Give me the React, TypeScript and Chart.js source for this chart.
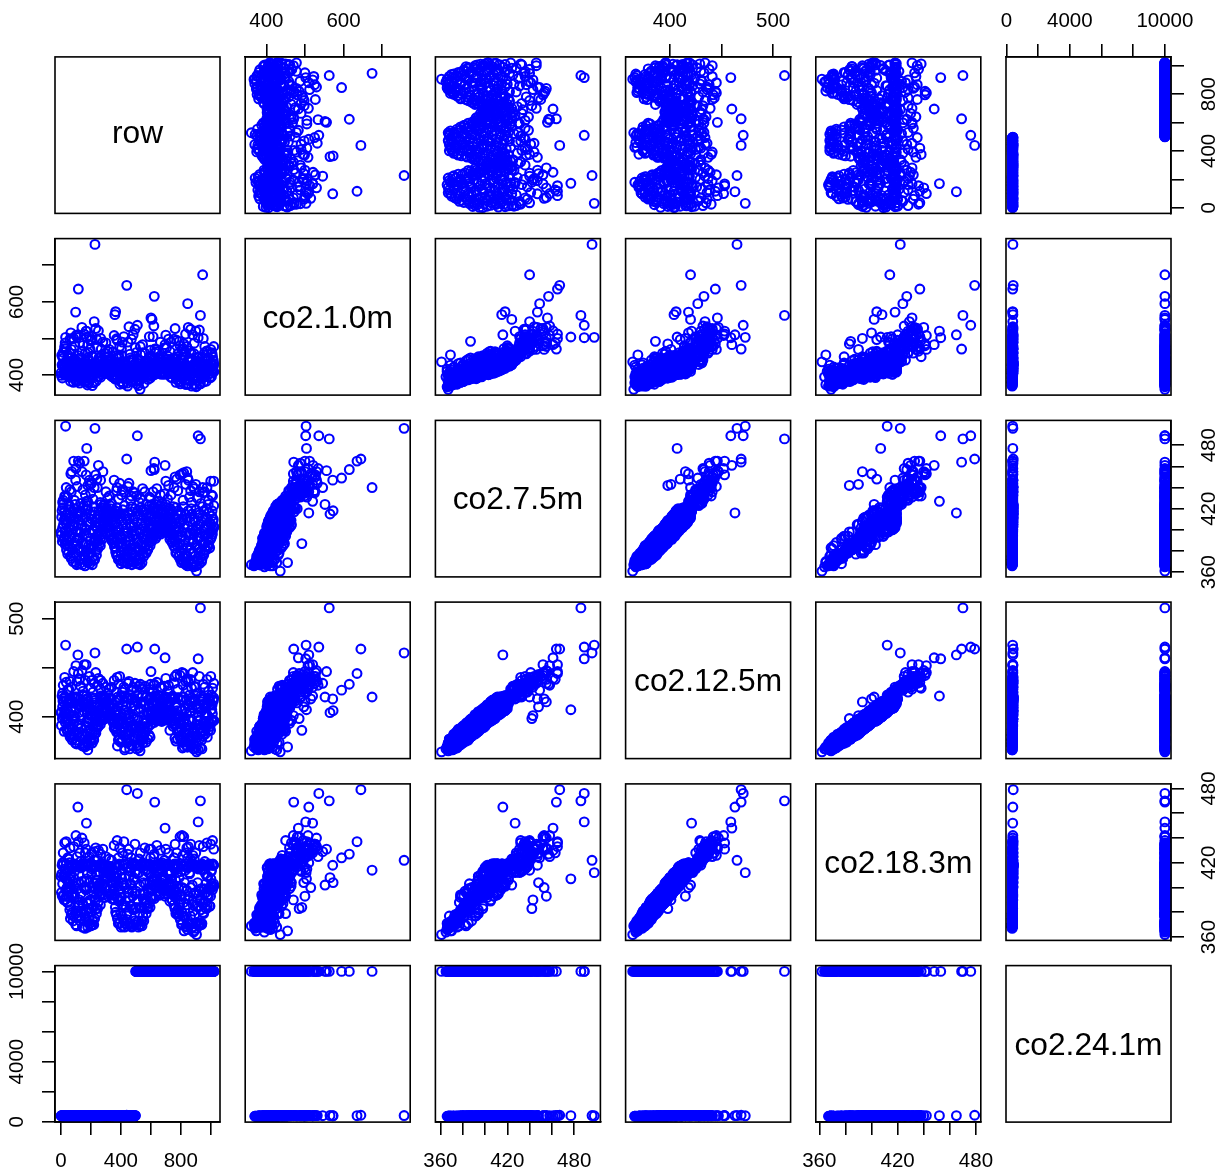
import React, { useEffect, useRef } from "react";
import { Chart, registerables } from "chart.js";
Chart.register(...registerables);

const rowMain = [
  1,5,9,13,17,21,25,29,33,37, 41,45,49,53,57,61,65,69,73,77, 81,85,89,93,97,101,105,109,113,117,
  121,125,129,133,137,141,145,149,153,157, 161,165,169,173,177,181,185,189,193,197, 201,205,209,213,217,221,225,229,233,237,
  241,245,249,253,257,261,265,269,273,277, 281,285,289,293,297,301,305,309,313,317, 321,325,329,333,337,341,345,349,353,357,
  361,365,369,373,377,381,385,389,393,397, 401,405,409,413,417,421,425,429,433,437, 441,445,449,453,457,461,465,469,473,477,
  481,485,489,493,497,501,505,509,513,517, 521,525,529,533,537,541,545,549,553,557, 561,565,569,573,577,581,585,589,593,597,
  601,605,609,613,617,621,625,629,633,637, 641,645,649,653,657,661,665,669,673,677, 681,685,689,693,697,701,705,709,713,717,
  721,725,729,733,737,741,745,749,753,757, 761,765,769,773,777,781,785,789,793,797, 801,805,809,813,817,821,825,829,833,837,
  841,845,849,853,857,861,865,869,873,877, 881,885,889,893,897,901,905,909,913,917, 921,925,929,933,937,941,945,949,953,957,
  961,965,969,973,977,981,985,989,993,997, 1001,1005,1009,1013,1017,1021,
];
const c7Main = [
  398,412,389,421,405,393,417,386,409,381, 415,377,402,391,422,384,408,373,396,418, 370,411,388,420,378,399,367,415,392,405,
  383,368,418,397,372,409,387,421,375,402, 366,412,380,394,371,419,385,405,368,390, 378,414,367,399,385,422,372,407,391,376,
  412,382,396,418,387,404,392,421,396,408, 401,415,407,421,403,411,404,418,408,402, 414,399,420,396,409,392,417,388,405,384,
  412,379,398,421,375,403,387,415,371,394, 368,409,384,419,373,397,369,413,389,402, 380,368,416,393,372,405,386,422,367,399,
  378,410,369,396,420,383,371,407,391,368, 414,376,400,421,385,369,409,392,375,417, 384,406,378,419,395,382,412,388,402,392,
  415,389,405,421,393,410,398,418,392,404, 397,413,403,420,398,409,396,416,401,407, 419,400,410,398,415,404,421,397,408,401,
  412,398,420,393,406,389,417,395,385,410, 383,403,421,378,394,414,375,408,386,372, 416,369,398,381,422,374,405,390,367,411,
  383,366,418,395,371,408,378,420,368,400, 388,365,410,375,399,419,367,383,404,371, 414,368,393,380,408,372,422,386,376,402,
  381,412,395,420,385,405,390,416,383,398, 405,393,418,400,410,403,
];
const c12Main = [
  404,405,398,416,415,385,420,394,400,387, 406,384,396,402,418,379,416,382,388,420, 378,401,398,414,373,408,372,412,383,412,
  393,372,410,388,381,415,380,422,371,412, 369,417,374,405,377,409,394,397,376,383, 387,403,373,406,377,419,382,412,383,387,
  404,389,390,409,397,412,397,418,401,398, 399,405,414,415,406,419,401,406,400,411, 419,401,411,403,398,401,412,394,397,389,
  402,387,407,417,370,395,397,418,377,385, 374,400,393,412,381,407,366,402,381,410, 373,376,419,402,377,395,396,417,370,390,
  388,400,376,388,416,391,367,415,382,371, 405,385,408,415,377,376,415,383,379,412, 394,396,374,421,404,389,404,381,411,398,
  404,397,412,414,399,401,406,421,399,396, 403,404,398,421,406,416,399,408,395,416, 411,408,400,402,420,397,418,406,416,396,
  403,406,415,402,396,396,421,390,392,418, 378,412,413,388,385,419,384,400,394,378, 406,376,407,374,420,384,396,398,371,417,
  392,369,411,386,379,415,372,416,377,409, 380,367,418,385,389,412,373,392,396,366, 408,377,384,388,415,367,417,394,385,393,
  390,404,403,413,379,414,386,418,390,393, 413,397,412,395,416,396,
];
const c18Main = [
  409,411,393,418,409,390,415,390,407,393, 400,388,403,397,420,385,409,378,395,417, 373,408,392,419,379,403,369,418,377,404,
  386,377,416,395,375,419,387,419,368,405, 367,419,381,399,372,417,387,404,371,389, 380,411,370,400,384,417,375,417,390,379,
  410,383,397,401,393,417,394,419,395,403, 394,412,417,408,400,418,407,412,393,416, 417,395,417,410,404,394,404,399,390,395,
  409,380,412,411,375,401,389,419,371,392, 368,408,386,418,374,402,368,409,389,403, 379,369,416,396,371,403,403,419,368,397,
  382,408,370,395,419,384,370,411,390,368, 412,379,401,418,384,369,409,391,373,418, 387,403,379,418,399,384,412,387,404,392,
  411,391,417,406,405,408,401,418,393,401, 397,411,404,418,400,419,394,414,400,409, 418,401,406,395,418,402,419,398,411,401,
  397,413,418,395,402,390,417,395,386,419, 383,406,419,394,379,416,377,408,387,374, 413,370,400,377,417,377,404,391,368,419,
  386,366,416,393,371,418,377,419,371,402, 386,364,417,378,396,418,367,385,404,370, 416,371,391,382,417,371,418,387,379,399,
  384,411,396,418,385,409,393,419,385,399, 407,403,418,401,418,401,
];
const c1Main = [
  406,454,392,446,403,428,472,400,437,427, 427,407,447,396,460,402,405,395,448,418, 405,414,412,480,386,439,382,435,393,453,
  427,378,446,395,397,464,393,435,411,422, 416,430,385,424,373,461,443,405,390,402, 394,452,371,451,412,424,420,416,424,431,
  418,406,439,446,447,416,394,471,416,443, 431,420,427,459,404,459,419,430,450,410, 436,402,428,432,423,442,463,394,433,402,
  412,391,453,447,409,413,431,447,375,414, 392,454,392,437,376,427,427,411,429,416, 428,370,426,419,408,457,393,442,382,441,
  384,440,415,398,475,403,383,445,441,371, 430,416,405,455,395,397,461,416,377,425, 416,410,433,437,439,388,438,402,450,392,
  451,398,430,426,443,425,401,460,414,464, 423,415,443,436,404,443,444,426,421,407, 449,446,418,402,437,418,475,415,444,403,
  424,436,464,394,434,409,423,445,401,444, 425,409,445,388,450,416,405,426,432,376, 444,381,402,419,472,394,465,398,399,427,
  387,410,440,447,385,414,412,460,370,426, 406,395,458,375,435,429,370,439,418,395, 448,376,435,396,410,422,450,408,381,460,
  407,418,409,466,423,425,444,417,393,430, 429,396,458,412,440,409,
];
const c24Main = [
  392,401,385,410,398,388,405,380,396,376, 408,372,394,386,412,378,402,370,391,405, 368,396,376,408,372,394,365,403,388,392,
  373,366,404,394,370,398,384,410,367,391, 364,401,378,384,368,406,375,401,366,388, 375,402,365,389,382,409,370,396,387,373,
  402,380,393,405,384,394,389,410,392,398, 393,405,397,411,393,401,395,407,398,392, 404,396,408,386,399,390,406,386,395,382,
  400,377,388,409,372,400,377,404,369,384, 366,397,381,406,371,395,367,402,379,399, 370,365,404,391,369,394,383,410,365,389,
  375,399,367,386,408,
  10000,10000,10000,10000,10000, 10000,10000,10000,10000,10000,10000,10000,10000,10000,10000, 10000,10000,10000,10000,10000,10000,10000,10000,10000,10000,
  10000,10000,10000,10000,10000,10000,10000,10000,10000,10000, 10000,10000,10000,10000,10000,10000,10000,10000,10000,10000, 10000,10000,10000,10000,10000,10000,10000,10000,10000,10000,
  10000,10000,10000,10000,10000,10000,10000,10000,10000,10000, 10000,10000,10000,10000,10000,10000,10000,10000,10000,10000, 10000,10000,10000,10000,10000,10000,10000,10000,10000,10000,
  10000,10000,10000,10000,10000,10000,10000,10000,10000,10000, 10000,10000,10000,10000,10000,10000,10000,10000,10000,10000, 10000,10000,10000,10000,10000,10000,10000,10000,10000,10000,
  10000,10000,10000,10000,10000,10000,10000,10000,10000,10000, 10000,10000,10000,10000,10000,10000,
];

// ---- further observations inside the dense clouds ----
const rowFill = [
  3,7,11,15,19,23,27,31,35,39, 43,47,51,55,59,63,67,71,75,79, 83,87,91,95,99,103,107,111,115,119,
  123,127,131,135,139,143,147,151,155,159, 163,167,171,175,179,183,187,191,195,199, 203,207,211,215,219,223,227,231,235,239,
  243,247,251,255,259,263,267,271,275,279, 283,287,291,295,299,303,307,311,315,319, 323,327,331,335,339,343,347,351,355,359,
  363,367,371,375,379,383,387,391,395,399, 403,407,411,415,419,423,427,431,435,439, 443,447,451,455,459,463,467,471,475,479,
  483,487,491,495,499,503,507,511,515,519, 523,527,531,535,539,543,547,551,555,559, 563,567,571,575,579,583,587,591,595,599,
  603,607,611,615,619,623,627,631,635,639, 643,647,651,655,659,663,667,671,675,679, 683,687,691,695,699,703,707,711,715,719,
  723,727,731,735,739,743,747,751,755,759, 763,767,771,775,779,783,787,791,795,799, 803,807,811,815,819,823,827,831,835,839,
  843,847,851,855,859,863,867,871,875,879, 883,887,891,895,899,903,907,911,915,919, 923,927,931,935,939,943,947,951,955,959,
  963,967,971,975,979,983,987,991,995,999, 1003,1007,1011,1015,1019,1020,
];
const c7Fill = [
  395,418,402,424,391,410,399,414,406,390, 386,408,379,419,394,375,412,400,382,405, 376,404,393,424,369,385,413,398,381,409,
  392,372,416,380,404,367,388,423,396,376, 374,400,386,423,369,408,378,397,415,383, 384,410,374,400,371,417,389,404,380,394,
  402,389,414,394,407,385,424,398,391,411, 406,423,412,402,416,409,420,405,413,403, 403,423,394,411,390,407,399,415,393,388,
  383,407,376,392,417,372,400,388,411,380, 378,391,370,405,381,415,375,399,386,410, 374,398,389,411,370,383,403,377,417,394,
  386,403,374,413,380,399,368,418,388,373, 381,397,372,406,388,419,378,403,394,383, 391,414,386,398,381,408,396,423,385,401,
  397,412,391,420,402,395,408,399,424,394, 404,418,399,410,402,423,405,398,412,400, 403,416,399,408,424,402,412,398,406,418,
  402,391,414,397,408,388,404,422,392,400, 390,378,411,398,384,418,402,376,393,407, 379,394,371,410,386,402,376,415,368,397,
  375,403,369,389,412,382,397,367,415,391, 379,396,370,408,385,366,401,373,416,392, 382,405,374,397,370,411,388,378,418,395,
  388,401,381,410,393,424,385,407,398,391, 399,413,396,408,402,423,
];
const c12Fill = [
  391,421,410,418,400,403,405,405,416,387, 394,398,388,414,387,381,416,409,376,397, 382,395,401,420,373,376,420,392,391,404,
  384,379,411,389,411,370,380,421,405,370, 381,391,395,418,366,416,371,407,409,375, 377,418,382,390,376,414,398,398,390,400,
  395,395,406,403,397,392,421,406,396,420, 397,417,419,398,406,414,408,415,406,411, 412,419,402,402,397,397,409,409,388,394,
  390,398,384,385,420,376,392,397,417,374, 386,384,375,396,390,420,368,406,378,419, 381,390,398,402,367,391,410,371,419,387,
  378,411,380,406,389,390,370,421,396,368, 390,388,376,414,380,421,373,396,402,390, 384,420,394,389,377,417,403,418,379,392,
  405,402,398,414,411,394,415,396,420,403, 413,409,406,418,396,418,398,407,402,405, 396,419,406,399,420,412,402,404,414,410,
  410,386,405,404,401,396,396,419,401,392, 398,375,403,406,377,419,393,385,400,417, 388,386,368,417,395,393,383,408,374,404,
  369,411,376,397,404,375,406,370,419,383, 387,388,367,417,378,369,410,379,409,400, 391,396,368,405,376,418,380,386,413,402,
  382,409,390,402,400,419,393,416,390,386, 407,407,403,417,396,419,
];
const c18Fill = [
  396,418,403,420,394,410,411,398,419,393, 388,405,393,407,382,375,418,416,380,405, 377,401,394,418,370,381,417,399,385,410,
  390,373,416,381,405,368,386,418,400,374, 376,398,388,419,368,419,376,400,417,369, 383,415,374,397,370,418,392,406,383,406,
  401,388,413,397,403,386,418,399,401,419, 403,418,417,392,413,408,414,408,411,415, 417,417,409,394,391,404,402,414,391,400,
  384,405,378,392,418,371,398,390,418,379, 392,377,369,404,385,419,371,400,384,416, 374,396,392,409,371,385,416,369,418,393,
  383,406,373,412,383,397,372,418,389,373, 384,395,370,418,373,419,377,404,395,396, 390,418,388,383,383,418,396,419,384,399,
  398,409,392,418,405,391,418,402,418,409, 418,402,413,412,394,419,404,400,408,398, 402,418,399,393,418,418,395,411,418,404,
  403,389,411,397,407,390,403,418,394,398, 392,379,396,412,382,417,399,379,393,419, 394,380,371,418,388,399,376,414,369,398,
  371,417,370,390,411,370,400,367,418,389, 381,395,365,418,371,371,417,372,415,394, 397,389,371,399,370,419,387,380,418,395,
  388,403,383,409,394,418,399,418,385,393, 413,400,398,419,403,418,
];
const c1Fill = [
  399,428,424,430,419,408,413,432,408,399, 402,414,409,431,394,383,436,403,402,419, 380,422,419,432,404,387,419,410,409,407,
  398,394,430,412,403,385,390,433,420,381, 402,408,402,427,379,430,380,427,414,389, 398,414,408,420,379,429,415,404,383,412,
  412,395,436,397,423,413,428,422,403,410, 408,435,430,426,422,409,440,419,417,411, 419,427,418,413,396,433,409,435,392,418,
  389,425,400,390,427,404,404,402,433,382, 402,395,378,419,417,417,391,405,414,428, 378,420,399,417,404,399,402,405,425,396,
  398,405,400,431,384,423,376,424,418,387, 383,417,402,416,394,423,402,401,408,411, 407,416,394,426,403,422,400,435,417,407,
  401,430,415,426,416,425,408,421,432,404, 416,424,425,412,422,433,421,402,434,408, 425,420,407,426,430,430,412,410,420,428,
  408,419,416,413,428,392,428,430,404,430, 400,380,435,420,414,424,418,382,395,419, 397,398,403,418,410,404,388,429,374,423,
  377,425,375,419,422,398,401,403,423,405, 387,420,374,422,413,368,419,385,422,394, 404,411,376,413,400,423,392,404,428,415,
  396,421,383,424,421,430,403,411,422,393, 405,429,416,410,426,431,
];
const c24Fill = [
  396,412,388,415,392,402,398,386,408,374, 384,398,377,409,390,372,406,396,381,401, 374,400,390,410,367,384,404,393,379,403,
  388,371,408,379,399,366,386,412,392,375, 372,395,385,410,367,403,377,394,407,381, 382,404,373,396,370,409,387,400,378,391,
  398,387,406,392,401,384,412,395,389,404, 400,411,405,397,408,403,410,399,406,398, 399,412,392,405,388,402,396,408,390,386,
  381,402,375,390,409,371,397,386,405,378, 376,389,369,401,380,408,374,395,384,404, 373,394,387,405,369,382,399,376,409,391,
  384,399,373,406,
  10000,10000,10000,10000,10000,10000, 10000,10000,10000,10000,10000,10000,10000,10000,10000,10000, 10000,10000,10000,10000,10000,10000,10000,10000,10000,10000,
  10000,10000,10000,10000,10000,10000,10000,10000,10000,10000, 10000,10000,10000,10000,10000,10000,10000,10000,10000,10000, 10000,10000,10000,10000,10000,10000,10000,10000,10000,10000,
  10000,10000,10000,10000,10000,10000,10000,10000,10000,10000, 10000,10000,10000,10000,10000,10000,10000,10000,10000,10000, 10000,10000,10000,10000,10000,10000,10000,10000,10000,10000,
  10000,10000,10000,10000,10000,10000,10000,10000,10000,10000, 10000,10000,10000,10000,10000,10000,10000,10000,10000,10000, 10000,10000,10000,10000,10000,10000,10000,10000,10000,10000,
  10000,10000,10000,10000,10000,10000,10000,10000,10000,10000, 10000,10000,10000,10000,10000,10000,
];

// ---- observations lying away from the dense clouds ----
const rowFar = [
  31,227,510,916,931, 172,439,116,623,626, 846,946,98,365,113, 695,601,620,905,528,
  25,35,15,45,60, 85,100,125,140,155, 168,190,205,222,232, 250,265,280,300,322, 355,375,392,410,420, 454,470,494,
  530,560,590,640,664, 700,718,762,773,795, 808,820,840,850,866, 880,900,924,950,975, 1000,1020,1012,
  170,180,195,72,66, 240,790,822,360,608,
  11,28,52,69,90,108,131,147,163,178,199,214,243,262,290,312,338,371,384,404,425,447,463,482,
  505,522,545,572,598,615,650,675,690,712,735,755,780,815,832,858,872,890,910,935,960,985,1005,
];
const c1Far = [
  503,757,536,502,563, 504,645,635,615,471, 595,674,572,573,510, 483,556,534,436,361,
  478,472,462,455,498, 500,508,488,530,512, 520,505,497,546,527, 521,500,490,488,470, 508,495,478,490,505, 532,498,525,
  478,460,505,470,490, 509,498,527,495,480, 470,485,478,530,525, 510,520,523,500,465, 470,478,450,
  520,485,470,500,515, 497,492,455,565,552,
  452,488,437,470,445,503,433,481,460,440,495,450,476,438,431,465,442,499,455,472,429,490,447,510,
  462,438,483,432,468,505,445,436,474,452,490,498,458,441,512,466,437,487,449,434,478,446,461,
];
const c7Far = [
  498,496,489,489,486, 477,467,465,457,464, 449,440,447,418,416, 461,456,458,361,367,
  432,440,428,431,438, 465,458,463,455,465, 452,447,444,440,452, 461,447,455,436,432, 447,440,444,438,436, 444,432,435,
  430,436,431,439,433, 446,442,450,448,452, 453,454,455,447,437, 441,443,436,435,440, 446,446,432,
  427,442,443,455,453, 448,387,369,415,424,
  426,431,424,436,428,441,425,438,433,427,435,429,440,426,424,430,425,437,429,433,423,441,428,436,
  432,426,439,424,430,436,427,425,434,429,433,440,437,428,443,431,426,439,430,425,436,428,433,
];
const c12Far = [
  473,465,471,459,511, 407,469,444,433,469, 427,420,418,406,463, 460,446,432,364,365,
  440,435,432,427,436, 446,452,438,447,453, 453,441,437,434,445, 439,437,434,430,428, 437,440,441,425,430, 436,428,434,
  433,431,428,435,430, 439,432,441,443,442, 445,444,438,436,438, 445,430,441,433,438, 441,434,429,
  421,398,401,415,418, 410,386,369,404,420,
  424,420,428,430,419,436,431,426,437,418,429,425,432,428,420,424,430,425,433,421,428,434,422,430,
  427,431,428,420,433,425,422,429,431,426,420,434,428,432,436,422,429,431,424,421,430,426,422,
];
const c18Far = [
  412,422,476,453,470, 407,479,437,427,469, 424,414,418,404,465, 448,431,425,362,369,
  436,437,428,424,432, 433,442,428,440,436, 431,425,428,429,432, 430,427,431,425,423, 434,438,432,428,437, 431,424,435,
  428,432,431,434,430, 431,428,435,428,441, 442,441,432,433,435, 426,428,434,433,436, 435,431,438,
  452,383,390,393,400, 404,384,365,408,402,
  420,414,423,418,413,425,421,417,428,412,420,416,422,419,415,417,422,416,424,414,419,427,413,420,
  418,423,420,414,424,415,417,420,422,419,413,424,418,426,428,412,421,423,416,415,421,418,414,
];
const c24Far = [
  395,410,10000,10000,10000, 405,430,400,10000,10000, 10000,10000,402,395,408, 10000,10000,10000,10000,10000,
  398,412,390,395,402, 396,408,415,405,410, 398,412,393,401,407, 398,394,402,405,397, 410,416,392,400,395, 408,403,412,
  10000,10000,10000,10000,10000, 10000,10000,10000,10000,10000, 10000,10000,10000,10000,10000, 10000,10000,10000,10000,10000, 10000,10000,10000,
  400,396,403,398,405, 392,10000,10000,410,10000,
  402,395,400,408,396,411,403,399,407,394,401,398,409,397,393,404,400,412,396,405,394,410,399,406,
  10000,10000,10000,10000,10000,10000,10000,10000,10000,10000,10000,10000,10000,10000,10000,10000,10000,10000,10000,10000,10000,10000,10000,
];

const names = ["row", "co2.1.0m", "co2.7.5m", "co2.12.5m", "co2.18.3m", "co2.24.1m"];
const columns = [
  [...rowMain, ...rowFill, ...rowFar],
  [...c1Main, ...c1Fill, ...c1Far],
  [...c7Main, ...c7Fill, ...c7Far],
  [...c12Main, ...c12Fill, ...c12Far],
  [...c18Main, ...c18Fill, ...c18Far],
  [...c24Main, ...c24Fill, ...c24Far],
];
const mins = [-39.8, 345.2, 355.5, 357.1, 357.3, -25];
const maxs = [1061.8, 772.8, 503.5, 516.9, 483.7, 10385];
const tickValues = [
  [0, 200, 400, 600, 800, 1000],
  [400, 500, 600, 700],
  [360, 380, 400, 420, 440, 460, 480],
  [400, 450, 500],
  [360, 380, 400, 420, 440, 460, 480],
  [0, 2000, 4000, 6000, 8000, 10000],
];
const tickLabels = [
  [0, 400, 800],
  [400, 600],
  [360, 420, 480],
  [400, 500],
  [360, 420, 480],
  [0, 4000, 10000],
];
const digits = [3, 3, 3, 3, 3, 5];

const FONT = "'Liberation Sans', Arial, Helvetica, sans-serif";
const TICK_SIZE = 20.5;
const LABEL_SIZE = 31.7;
const TICK_LEN = 13;
const LINE = 1.6;
const BLUE = "#0000FF";
const panelLefts = [55, 245.2, 435.4, 625.6, 815.8, 1006];
const panelTops = [56.9, 238.6, 420.4, 602.1, 783.9, 965.6];
const PANEL_W = 165;
const PANEL_H = 156.5;
const MARGIN = 60;

function axisOptions(v: number, horizontal: boolean, pos: string | null, size: number) {
  const labels = tickLabels[v];
  const yPad = 38 - TICK_LEN - (digits[v] * 0.556 * TICK_SIZE) / 2;
  const xPad = pos === "top" ? 10 : 14;
  return {
    type: "linear",
    display: pos !== null,
    position: pos ?? (horizontal ? "bottom" : "left"),
    min: mins[v],
    max: maxs[v],
    afterBuildTicks: (s: any) => {
      s.ticks = tickValues[v].map((value) => ({ value }));
    },
    afterFit: (s: any) => {
      if (pos === null) return;
      if (horizontal) s.height = size;
      else s.width = size;
      s.paddingLeft = s.paddingRight = s.paddingTop = s.paddingBottom = 0;
    },
    grid: {
      display: true,
      drawOnChartArea: false,
      drawTicks: true,
      tickLength: TICK_LEN,
      color: "#000000",
      lineWidth: LINE,
    },
    border: { display: true, color: "#000000", width: LINE },
    ticks: {
      autoSkip: false,
      color: "#000000",
      font: { family: FONT, size: TICK_SIZE },
      padding: horizontal ? xPad : yPad,
      minRotation: horizontal ? 0 : 90,
      maxRotation: horizontal ? 0 : 90,
      crossAlign: horizontal ? "near" : "center",
      callback: (value: number) => (labels.includes(value) ? String(value) : ""),
    },
  };
}

function Panel({ r, c }: { r: number; c: number }) {
  const ref = useRef<HTMLCanvasElement>(null);
  useEffect(() => {
    const leftPx = panelLefts[c];
    const topPx = panelTops[r];
    const canvasLeft = Math.floor(leftPx) - MARGIN;
    const canvasTop = Math.floor(topPx) - MARGIN;
    const cw = PANEL_W + 2 * MARGIN + 2;
    const ch = Math.ceil(PANEL_H) + 2 * MARGIN + 2;
    const canvas = ref.current!;
    canvas.width = cw;
    canvas.height = ch;
    canvas.style.position = "absolute";
    canvas.style.left = canvasLeft + "px";
    canvas.style.top = canvasTop + "px";
    const mL = leftPx - canvasLeft;
    const mT = topPx - canvasTop;
    const mR = cw - mL - PANEL_W;
    const mB = ch - mT - PANEL_H;

    const xPos = r === 0 && c % 2 === 1 ? "top" : r === 5 && c % 2 === 0 ? "bottom" : null;
    const yPos = c === 0 && r % 2 === 1 ? "left" : c === 5 && r % 2 === 0 ? "right" : null;
    const diag = r === c;

    const chart = new Chart(canvas, {
      type: "scatter",
      data: {
        datasets: diag
          ? []
          : [
              {
                data: columns[c].map((x, i) => ({ x, y: columns[r][i] })),
                pointStyle: "circle",
                pointRadius: 4.4,
                pointBorderWidth: 2.1,
                pointBackgroundColor: "rgba(0,0,0,0)",
                pointBorderColor: BLUE,
                showLine: false,
                clip: false,
              },
            ],
      },
      options: {
        animation: false,
        responsive: false,
        devicePixelRatio: 1,
        events: [],
        layout: {
          padding: {
            left: yPos === "left" ? 0 : mL,
            right: yPos === "right" ? 0 : mR,
            top: xPos === "top" ? 0 : mT,
            bottom: xPos === "bottom" ? 0 : mB,
          },
        },
        plugins: { legend: { display: false }, tooltip: { enabled: false } },
        scales: {
          x: axisOptions(c, true, xPos, xPos === "top" ? mT : mB),
          y: axisOptions(r, false, yPos, yPos === "left" ? mL : mR),
        },
      } as any,
      plugins: [
        {
          id: "panelFrame",
          afterDraw(ch2: any) {
            const { ctx, chartArea: a } = ch2;
            ctx.save();
            ctx.strokeStyle = "#000000";
            ctx.lineWidth = LINE;
            ctx.strokeRect(a.left, a.top, a.right - a.left, a.bottom - a.top);
            if (diag) {
              ctx.fillStyle = "#000000";
              ctx.font = `${LABEL_SIZE}px ${FONT}`;
              ctx.textAlign = "center";
              ctx.textBaseline = "middle";
              ctx.fillText(names[r], (a.left + a.right) / 2, (a.top + a.bottom) / 2 + (r === 0 ? -1 : 2));
            }
            ctx.restore();
          },
        },
      ],
    } as any);
    return () => chart.destroy();
  }, [r, c]);
  return <canvas ref={ref} />;
}

export default function App() {
  useEffect(() => {
    document.body.style.margin = "0";
    document.body.style.background = "#ffffff";
  }, []);
  return (
    <div style={{ position: "absolute", left: 0, top: 0, width: 1220, height: 1171, overflow: "hidden", background: "#fff" }}>
      {names.map((_, r) => names.map((__, c) => <Panel key={r + "-" + c} r={r} c={c} />))}
    </div>
  );
}
